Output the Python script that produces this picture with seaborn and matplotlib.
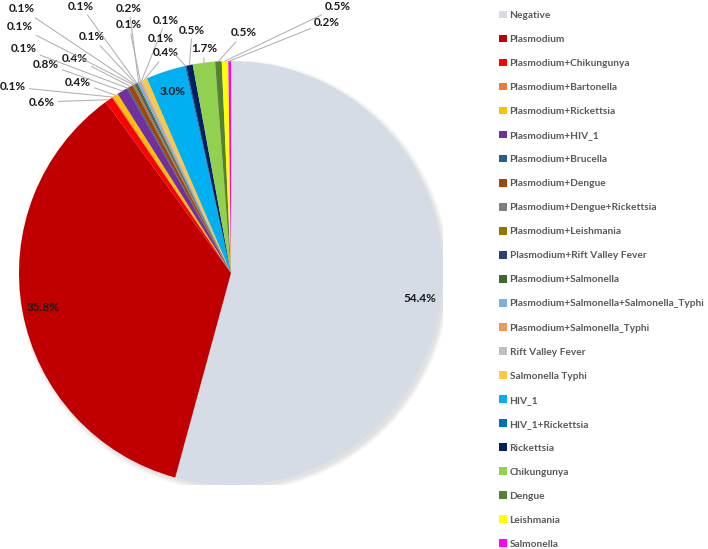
import matplotlib.pyplot as plt
import seaborn as sns
import numpy as np
from matplotlib.patches import Circle

# Data
categories = ['Negative', 'Plasmodium', 'Plasmodium+Chikungunya', 'Plasmodium+Bartonella',
              'Plasmodium+Rickettsia', 'Plasmodium+HIV_1', 'Plasmodium+Brucella',
              'Plasmodium+Dengue', 'Plasmodium+Dengue+Rickettsia', 'Plasmodium+Leishmania',
              'Plasmodium+Rift Valley Fever', 'Plasmodium+Salmonella',
              'Plasmodium+Salmonella+Salmonella_Typhi', 'Plasmodium+Salmonella_Typhi',
              'Rift Valley Fever', 'Salmonella Typhi', 'HIV_1', 'HIV_1+Rickettsia',
              'Rickettsia', 'Chikungunya', 'Dengue', 'Leishmania', 'Salmonella']
shares = [54.4, 35.8, 0.6, 0.1, 0.4, 0.8, 0.1, 0.4, 0.1, 0.1, 0.1, 0.1, 0.2, 0.1,
          0.1, 0.4, 3.0, 0.1, 0.5, 1.7, 0.5, 0.5, 0.2]

colors = ['#D6DCE5', '#C00000', '#FF0000', '#ED7D31', '#FFC000', '#7030A0', '#255E91',
          '#9E480E', '#7F7F7F', '#997300', '#264478', '#43682B', '#7CAFDD', '#F1975A',
          '#BFBFBF', '#FFC83D', '#00B0F0', '#0070C0', '#002060', '#92D050', '#548235',
          '#FFFF00', '#FF00FF']

# where the outside labels sit (pixels from top-left); None = label inside the slice
label_px = [None, None, (42, 102), (13, 87), (78, 82), (46, 64), (24, 49), (75, 58),
            (20, 27), (22, 9), (92, 37), (81, 6), (129, 8), (129, 25), (166, 20),
            (166, 53), None, (161, 39), (192, 30), (204, 49), (244, 33), (338, 7), (327, 22)]

sns.set_theme(style="white")
plt.rcParams['font.family'] = ['Lato', 'DejaVu Sans']

W, H = 708, 549
fig = plt.figure(figsize=(W / 100, H / 100), dpi=100)
ax = fig.add_axes([19 / W, 1 - 485 / H, 424 / W, 424 / H])

# soft shadow under the pie
for k in range(5):
    ax.add_patch(Circle((0.012, -0.014), 1.0 + k * 0.005, color='black',
                        alpha=0.025, lw=0, zorder=0))

wedges, _ = ax.pie(shares, colors=colors, startangle=90, counterclock=False,
                   radius=1, wedgeprops=dict(linewidth=0))
for w in wedges:
    w.set_zorder(2)

ax.set_xlim(-1, 1)
ax.set_ylim(-1, 1)
ax.set_aspect('equal')
ax.axis('off')

# Etiquetas de porcentaje
for w, v, pos in zip(wedges, shares, label_px):
    ang = np.deg2rad((w.theta1 + w.theta2) / 2)
    txt = f"{v:.1f}%"
    if pos is None:
        ax.text(0.9 * np.cos(ang), 0.9 * np.sin(ang), txt, ha='center', va='center',
                fontsize=8.5, fontweight='bold', color='#1a1a1a', zorder=5)
    else:
        ax.annotate(txt, xy=(np.cos(ang), np.sin(ang)), xycoords='data',
                    xytext=(pos[0], H - pos[1]), textcoords='figure pixels',
                    ha='center', va='center', fontsize=8.5, fontweight='bold',
                    color='#1a1a1a', annotation_clip=False,
                    arrowprops=dict(arrowstyle='-', color='#B0B0B0', lw=0.75,
                                    shrinkA=0, shrinkB=0))

# Leyenda
fig.legend(wedges, categories, loc='upper left', bbox_to_anchor=(499 / W, 1 - 11 / H),
           frameon=False, prop=dict(family='Lato', weight='bold', size=7.3),
           labelcolor='#595959', handlelength=0.74, handleheight=0.74,
           handletextpad=0.3, labelspacing=1.46, borderpad=0, borderaxespad=0)

fig.savefig('out.png', dpi=100)
